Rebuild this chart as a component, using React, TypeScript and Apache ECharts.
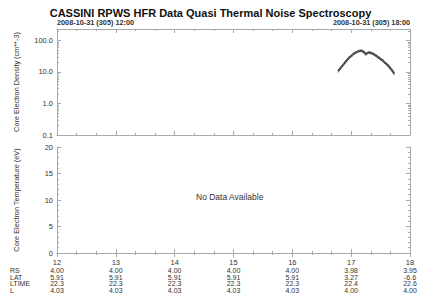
import React, { useEffect, useRef } from "react";
import * as echarts from "echarts";

const titleText = "CASSINI RPWS HFR Data Quasi Thermal Noise Spectroscopy";
const startLabel = "2008-10-31 (305) 12:00";
const endLabel = "2008-10-31 (305) 18:00";

const hourTicks = [12, 13, 14, 15, 16, 17, 18];
const rsRow = ["4.00", "4.00", "4.00", "4.00", "4.00", "3.98", "3.95"];
const latRow = ["5.91", "5.91", "5.91", "5.91", "5.91", "3.27", "-6.6"];
const ltimeRow = ["22.3", "22.3", "22.3", "22.3", "22.3", "22.4", "22.6"];
const lRow = ["4.03", "4.03", "4.03", "4.03", "4.03", "4.00", "4.00"];
const rowNames = ["RS", "LAT", "LTIME", "L"];

const densityHours = [
  16.78, 16.81, 16.84, 16.87, 16.9, 16.93, 16.96, 16.99, 17.02, 17.05, 17.08,
  17.11, 17.14, 17.17, 17.2, 17.23, 17.25, 17.27, 17.3, 17.33, 17.36, 17.39,
  17.42, 17.45, 17.48, 17.51, 17.54, 17.57, 17.6, 17.63, 17.66, 17.69, 17.71,
  17.73,
];
const densityValues = [
  10.8, 12.6, 14.8, 17.5, 20.5, 23.8, 27.5, 31.0, 34.5, 38.5, 41.5, 44.0, 46.5,
  47.0, 45.5, 40.0, 36.5, 39.5, 41.0, 40.5, 38.5, 36.0, 33.0, 30.0, 27.5, 25.0,
  22.5, 20.0, 17.8, 15.8, 13.5, 11.5, 10.2, 9.0,
];

const FONT = "Liberation Sans, Arial, Helvetica, sans-serif";
const AXIS_GRAY = "#a8a8a8";
const TEXT = "#333";

export default function App() {
  const ref = useRef<HTMLDivElement>(null);
  useEffect(() => {
    if (!ref.current) return;
    const chart = echarts.init(ref.current, null, { renderer: "svg" });

    const lineStyle = { color: AXIS_GRAY, width: 1 };
    const majorTick = { show: true, inside: true, length: 4, lineStyle };
    const minorTick = (n: number) => ({ show: true, splitNumber: n, length: 2, lineStyle });

    const baseX = {
      type: "value" as const,
      min: 12,
      max: 18,
      interval: 1,
      axisLine: { show: true, lineStyle },
      axisTick: majorTick,
      minorTick: minorTick(3),
      splitLine: { show: false },
    };

    const tableAxis = (gridIndex: number, offset: number, row: string[]) => ({
      ...baseX,
      gridIndex,
      position: "bottom" as const,
      offset,
      axisLine: { show: false },
      axisTick: { show: false },
      minorTick: { show: false },
      axisLabel: {
        show: true,
        margin: 0,
        fontSize: 7,
        fontFamily: FONT,
        color: TEXT,
        formatter: (v: number) => {
          const i = hourTicks.indexOf(Math.round(v));
          return i >= 0 ? row[i] : "";
        },
      },
    });

    const option: any = {
      animation: false,
      backgroundColor: "#fff",
      title: {
        text: titleText,
        left: "center",
        top: 2,
        textStyle: { fontSize: 11, fontWeight: "bold", fontFamily: FONT, color: "#111" },
      },
      grid: [
        { left: 57, right: 11, top: 29, height: 106 },
        { left: 57, right: 11, top: 147, height: 106 },
      ],
      xAxis: [
        { ...baseX, gridIndex: 0, position: "bottom", axisLabel: { show: false } },
        {
          ...baseX,
          gridIndex: 0,
          position: "top",
          axisLabel: {
            show: true,
            margin: 3,
            fontSize: 7.3,
            fontWeight: "bold",
            fontFamily: FONT,
            color: TEXT,
            alignMinLabel: "left",
            alignMaxLabel: "right",
            formatter: (v: number) => (v === 12 ? startLabel : v === 18 ? endLabel : ""),
          },
        },
        {
          ...baseX,
          gridIndex: 1,
          position: "bottom",
          axisLabel: { show: true, margin: 5, fontSize: 7.5, fontFamily: FONT, color: TEXT },
        },
        { ...baseX, gridIndex: 1, position: "top", axisLabel: { show: false } },
        tableAxis(1, 14, rsRow),
        tableAxis(1, 20.5, latRow),
        tableAxis(1, 27, ltimeRow),
        tableAxis(1, 33.5, lRow),
      ],
      yAxis: [
        {
          type: "log",
          logBase: 10,
          gridIndex: 0,
          min: 0.1,
          max: 230,
          position: "left",
          name: "Core Electron Density (cm**-3)",
          nameLocation: "middle",
          nameGap: 37,
          nameTextStyle: { fontSize: 7.3, fontFamily: FONT, color: TEXT },
          axisLine: { show: true, lineStyle },
          axisTick: majorTick,
          minorTick: minorTick(9),
          splitLine: { show: false },
          axisLabel: {
            show: true,
            margin: 4,
            fontSize: 7.5,
            fontFamily: FONT,
            color: TEXT,
            showMaxLabel: false,
            formatter: (v: number) => v.toFixed(1),
          },
        },
        {
          type: "log",
          logBase: 10,
          gridIndex: 0,
          min: 0.1,
          max: 230,
          position: "right",
          axisLine: { show: true, lineStyle },
          axisTick: majorTick,
          minorTick: minorTick(9),
          splitLine: { show: false },
          axisLabel: { show: false },
        },
        {
          type: "value",
          gridIndex: 1,
          min: 0,
          max: 20,
          interval: 5,
          position: "left",
          name: "Core Electron Temperature (eV)",
          nameLocation: "middle",
          nameGap: 37,
          nameTextStyle: { fontSize: 7.3, fontFamily: FONT, color: TEXT },
          axisLine: { show: true, lineStyle },
          axisTick: majorTick,
          minorTick: minorTick(5),
          splitLine: { show: false },
          axisLabel: { show: true, margin: 4, fontSize: 7.5, fontFamily: FONT, color: TEXT },
        },
        {
          type: "value",
          gridIndex: 1,
          min: 0,
          max: 20,
          interval: 5,
          position: "right",
          axisLine: { show: true, lineStyle },
          axisTick: majorTick,
          minorTick: minorTick(5),
          splitLine: { show: false },
          axisLabel: { show: false },
        },
      ],
      series: [
        {
          type: "line",
          xAxisIndex: 0,
          yAxisIndex: 0,
          data: densityHours.map((h, i) => [h, densityValues[i]]),
          lineStyle: { color: "#333", width: 2 },
          symbol: "rect",
          symbolSize: [1, 3],
          itemStyle: { color: "#666" },
          showSymbol: true,
        },
      ],
      graphic: [
        {
          type: "text",
          left: 196,
          top: 192,
          style: { text: "No Data Available", fontSize: 8.5, fontFamily: FONT, fill: TEXT },
        },
        ...rowNames.map((name, i) => ({
          type: "text",
          left: 10,
          top: 267 + i * 6.5,
          style: { text: name, fontSize: 7, fontFamily: FONT, fill: TEXT },
        })),
      ],
    };
    chart.setOption(option);
    return () => chart.dispose();
  }, []);
  return <div ref={ref} style={{ width: 421, height: 298, position: "absolute", left: 0, top: 0 }} />;
}
